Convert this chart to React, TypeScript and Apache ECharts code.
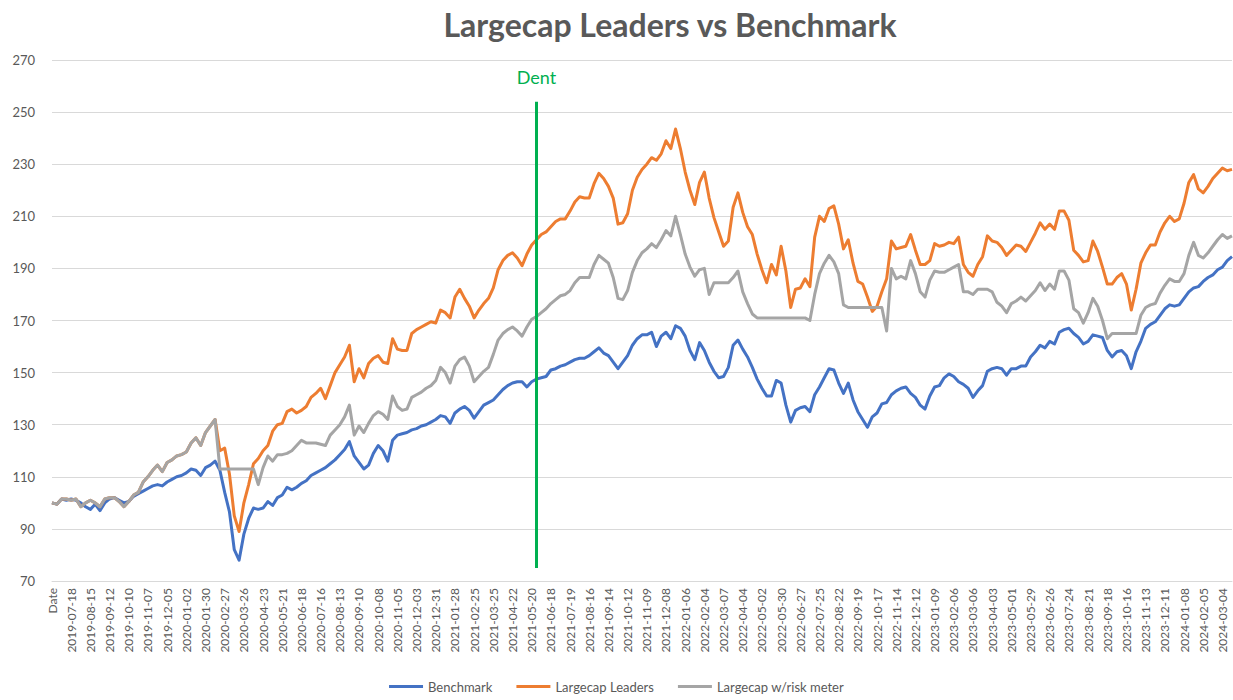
import React, { useEffect, useRef } from "react";
import * as echarts from "echarts";

const TITLE = "Largecap Leaders vs Benchmark";
const SERIES_NAMES = ["Benchmark", "Largecap Leaders", "Largecap w/risk meter"];
const COLORS = ["#4472C4", "#ED7D31", "#A5A5A5"];

// tick labels (every 20 trading days); data sampled 4 points per label interval
const TICK_LABELS = [
  "Date",
  "2019-07-18", "2019-08-15", "2019-09-12", "2019-10-10", "2019-11-07", "2019-12-05",
  "2020-01-02", "2020-01-30", "2020-02-27", "2020-03-26", "2020-04-23", "2020-05-21",
  "2020-06-18", "2020-07-16", "2020-08-13", "2020-09-10", "2020-10-08", "2020-11-05",
  "2020-12-03", "2020-12-31",
  "2021-01-28", "2021-02-25", "2021-03-25", "2021-04-22", "2021-05-20", "2021-06-18",
  "2021-07-19", "2021-08-16", "2021-09-14", "2021-10-12", "2021-11-09", "2021-12-08",
  "2022-01-06", "2022-02-04", "2022-03-07", "2022-04-04", "2022-05-02", "2022-05-30",
  "2022-06-27", "2022-07-25", "2022-08-22", "2022-09-19", "2022-10-17", "2022-11-14",
  "2022-12-12",
  "2023-01-09", "2023-02-06", "2023-03-06", "2023-04-03", "2023-05-01", "2023-05-29",
  "2023-06-26", "2023-07-24", "2023-08-21", "2023-09-18", "2023-10-16", "2023-11-13",
  "2023-12-11",
  "2024-01-08", "2024-02-05", "2024-03-04",
];

const BENCHMARK = [
  100, 99.5, 101.5, 101, 101.5, 101, 100, 98.5, 97.5, 99.5, 97, 100, 101.5, 102, 101, 100,
  100.5, 102.5, 103.5, 104.5, 105.5, 106.5, 107, 106.5, 108, 109, 110, 110.5, 111.5, 113, 112.5, 110.5,
  113.5, 114.5, 116, 112.5, 104, 96.5, 82, 78, 88, 94, 98, 97.5, 98, 100.5, 99, 102,
  103, 106, 105, 106, 107.5, 108.5, 110.5, 111.5, 112.5, 113.5, 115, 116.5, 118.5, 120.5, 123.5, 118,
  115.5, 113, 114.5, 119, 122, 120, 116, 124, 126, 126.5, 127, 128, 128.5, 129.5, 130, 131,
  132, 133.5, 133, 130.5, 134.5, 136, 137, 135.5, 132.5, 135, 137.5, 138.5, 139.5, 141.5, 143.5, 145,
  146, 146.5, 146.5, 144.5, 146.5, 147.5, 148, 148.5, 151, 151.5, 152.5, 153, 154, 155, 155.5, 155.5,
  156.5, 158, 159.5, 157.5, 156.5, 154, 151.5, 154, 156.5, 160.5, 163, 164.5, 164.5, 165.5, 160, 164,
  165.5, 163, 168, 167, 164, 158.5, 155, 161.5, 158.5, 154, 150.5, 148, 148.5, 152, 160.5, 162.5,
  159, 156, 152, 147.5, 144, 141, 141, 147, 146, 137.5, 131, 135.5, 136.5, 137, 135, 141.5,
  144.5, 148, 151.5, 151, 146, 142, 146, 139.5, 135, 132, 129, 133, 134.5, 138, 138.5, 141.5,
  143, 144, 144.5, 142, 140.5, 137.5, 136, 141, 144.5, 145, 148, 149.5, 148.5, 146.5, 145.5, 144,
  140.5, 143, 145, 150.5, 151.5, 152, 151.5, 149, 151.5, 151.5, 152.5, 152.5, 156, 158, 160.5, 159.5,
  162, 161, 165.5, 166.5, 167, 165, 163.5, 161, 162, 164.5, 164, 163.5, 158.5, 156, 158, 158.5,
  156.5, 151.5, 158, 162, 167, 168.5, 169.5, 172, 174.5, 176, 175.5, 176, 178.5, 181, 182.5, 183,
  185, 186.5, 187.5, 189.5, 190.5, 193, 194.5,
];

const LEADERS = [
  100, 99.5, 101.5, 101.5, 101, 101.5, 98.5, 100, 101, 100, 98.5, 101.5, 102, 102, 100.5, 98.5,
  100.5, 103, 104, 108, 110, 112.5, 114.5, 112, 115.5, 116.5, 118, 118.5, 119.5, 123, 125, 122,
  127, 129.5, 132, 120, 121, 111, 95, 89, 100, 107, 115, 117, 120, 122, 127.5, 130,
  130.5, 135, 136, 134.5, 135.5, 137, 140.5, 142, 144, 140, 145, 150, 153, 156, 160.5, 146.5,
  151.5, 148, 153.5, 155.5, 156.5, 154, 153.5, 163, 159, 158.5, 158.5, 165, 166.5, 167.5, 168.5, 169.5,
  169, 174, 173, 171, 179, 182, 178.5, 175.5, 171, 174, 176.5, 178.5, 182.5, 189.5, 193, 195,
  196, 194, 191, 195.5, 199, 201, 203, 204, 206, 208, 209, 209, 212, 215.5, 217.5, 217,
  217, 222.5, 226.5, 224.5, 221.5, 217, 207, 207.5, 211, 220, 225, 228, 230, 232.5, 231.5, 234,
  239, 236, 243.5, 236, 227, 220, 214.5, 223, 227, 217, 209.5, 204, 198.5, 200.5, 213.5, 219,
  211.5, 206, 203, 195.5, 189.5, 184.5, 191.5, 187.5, 198.5, 189, 175, 182, 182.5, 186, 183, 202,
  210, 208, 213, 214, 207, 197.5, 201, 192, 185, 184, 179, 173.5, 175.5, 181, 186, 200.5,
  197.5, 198, 198.5, 203, 197, 191.5, 191.5, 193, 199.5, 198.5, 199, 200, 199.5, 202, 191.5, 188.5,
  187, 191.5, 194.5, 202.5, 200.5, 200, 198, 195, 197, 199, 198.5, 196.5, 200, 203.5, 207.5, 205,
  207, 205, 212, 212, 208.5, 197, 195, 192.5, 193, 200.5, 196.5, 190.5, 184, 184, 186.5, 188,
  184, 174, 182, 192, 196, 199, 199, 204, 207.5, 210, 208, 209, 215, 223, 226, 220.5,
  219, 221.5, 224.5, 226.5, 228.5, 227.5, 228,
];

const RISK_METER = [
  100, 99.5, 101.5, 101.5, 101, 101.5, 98.5, 100, 101, 100, 98.5, 101.5, 102, 102, 100.5, 98.5,
  100.5, 103, 104, 108, 110, 112.5, 114.5, 112, 115.5, 116.5, 118, 118.5, 119.5, 123, 125, 122,
  127, 129.5, 132, 113, 113, 113, 113, 113, 113, 113, 113, 107, 113.5, 118, 116, 118.5,
  118.5, 119, 120, 122, 124, 123, 123, 123, 122.5, 122, 126, 128, 130, 133, 137.5, 126,
  129.5, 127, 130.5, 133.5, 135, 134, 132, 141, 137, 135.5, 136, 140.5, 141.5, 142.5, 144, 145,
  147, 152, 150, 146, 152.5, 155, 156, 152.5, 146.5, 148.5, 150.5, 152, 157, 162.5, 165, 166.5,
  167.5, 166, 164, 167.5, 170.5, 171.5, 173, 174.5, 176.5, 178, 179.5, 180, 181.5, 184.5, 186.5, 186.5,
  186.5, 191.5, 195, 193.5, 192, 186.5, 178.5, 178, 181.5, 188.5, 193, 196, 197.5, 199.5, 198, 201,
  204.5, 202.5, 210, 203, 195.5, 190.5, 187, 189.5, 190, 180, 184.5, 184.5, 184.5, 184.5, 186.5, 189,
  181, 176.5, 172.5, 171, 171, 171, 171, 171, 171, 171, 171, 171, 171, 171, 170, 180,
  188, 192, 195, 192.5, 188, 176, 175, 175, 175, 175, 175, 175, 175, 175, 166, 190,
  186, 187, 186, 193, 188, 181, 179, 185.5, 189, 188.5, 188.5, 189.5, 190.5, 191.5, 181, 181,
  180, 182, 182, 182, 181, 177, 175.5, 173, 176.5, 177.5, 179, 177.5, 179.5, 181.5, 184.5, 181.5,
  184, 182, 189, 189, 185.5, 174.5, 173, 169, 173, 178.5, 175.5, 170, 163, 165, 165, 165,
  165, 165, 165, 172, 175, 176, 176.5, 180.5, 183.5, 186, 185, 185, 188, 195, 200, 195,
  194, 196, 198.5, 201, 203, 201.5, 202.5,
];

const DENT_LABEL = "Dent";
const DENT_INDEX = 101;
const DENT_RANGE = [254, 75];

const FONT = "Lato, 'Open Sans', sans-serif";

export default function App() {
  const ref = useRef<HTMLDivElement>(null);

  useEffect(() => {
    if (!ref.current) return;
    document.body.style.margin = "0";
    const chart = echarts.init(ref.current, undefined, { renderer: "svg" });

    const categories = BENCHMARK.map((_, i) =>
      i % 4 === 0 && TICK_LABELS[i / 4] !== undefined ? TICK_LABELS[i / 4] : ""
    );
    const seriesData = [BENCHMARK, LEADERS, RISK_METER];

    const series: any[] = seriesData.map((d, i) => ({
      name: SERIES_NAMES[i],
      type: "line",
      data: d,
      showSymbol: false,
      symbol: "none",
      smooth: false,
      lineStyle: { color: COLORS[i], width: 3, join: "round" },
      itemStyle: { color: COLORS[i] },
      z: 2 + i,
    }));

    series[2].markLine = {
      silent: true,
      symbol: ["none", "none"],
      animation: false,
      lineStyle: { color: "#00B050", width: 3, type: "solid" },
      label: {
        show: true,
        position: "start",
        formatter: DENT_LABEL,
        color: "#00B050",
        fontSize: 18,
        fontFamily: FONT,
        distance: 16,
      },
      data: [[{ coord: [DENT_INDEX, DENT_RANGE[0]] }, { coord: [DENT_INDEX, DENT_RANGE[1]] }]],
    };

    chart.setOption({
      animation: false,
      textStyle: { fontFamily: FONT },
      title: {
        text: TITLE,
        left: 665,
        textAlign: "center",
        top: 3,
        textStyle: { fontSize: 32, fontWeight: "bold", color: "#595959", fontFamily: FONT },
      },
      grid: { left: 52, right: 1, top: 60, height: 521 },
      legend: {
        bottom: 2,
        left: "center",
        icon: "rect",
        itemWidth: 34,
        itemHeight: 3,
        itemGap: 24,
        textStyle: { color: "#595959", fontSize: 13, fontFamily: FONT },
        data: SERIES_NAMES,
      },
      xAxis: {
        type: "category",
        data: categories,
        boundaryGap: false,
        axisLine: { lineStyle: { color: "#d9d9d9" } },
        axisTick: { show: false },
        splitLine: { show: false },
        axisLabel: {
          interval: 3,
          rotate: 90,
          color: "#595959",
          fontSize: 12,
          margin: 7,
          fontFamily: FONT,
        },
      },
      yAxis: {
        type: "value",
        min: 70,
        max: 270,
        interval: 20,
        axisLine: { show: false },
        axisTick: { show: false },
        splitLine: { lineStyle: { color: "#d9d9d9", width: 1 } },
        axisLabel: { color: "#595959", fontSize: 13, margin: 17, fontFamily: FONT },
      },
      series,
    });

    return () => chart.dispose();
  }, []);

  return (
    <div
      ref={ref}
      style={{ position: "fixed", left: 0, top: 0, width: 1233, height: 700, background: "#fff" }}
    />
  );
}
